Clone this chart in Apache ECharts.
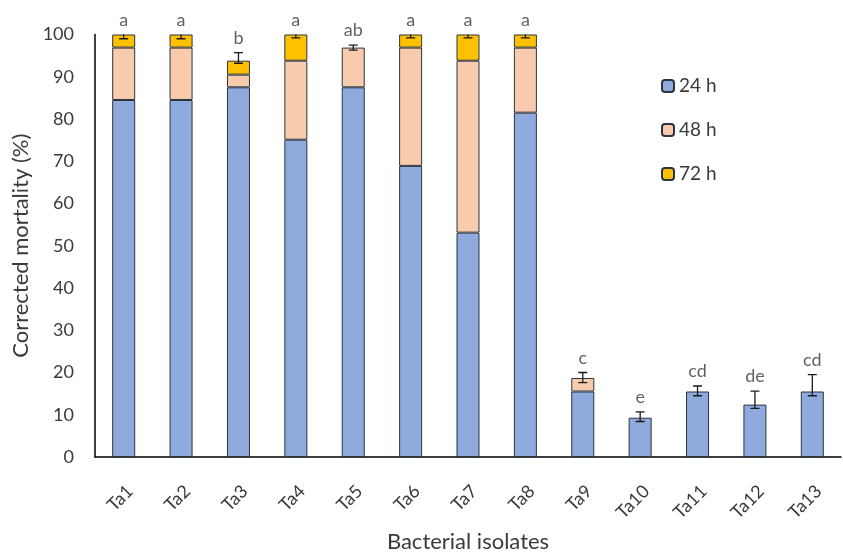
<!DOCTYPE html>
<html><head><meta charset="utf-8">
<script src="https://cdn.jsdelivr.net/npm/echarts@6/dist/echarts.min.js"></script>
<style>html,body{margin:0;padding:0;background:#fff}#c{width:843px;height:558px}</style>
</head><body><div id="c"></div>
<script>
const categories = ['Ta1','Ta2','Ta3','Ta4','Ta5','Ta6','Ta7','Ta8','Ta9','Ta10','Ta11','Ta12','Ta13'];
const h24 = [84.5, 84.5, 87.5, 75.1, 87.5, 68.9, 53.1, 81.5, 15.5, 9.3, 15.5, 12.4, 15.5];
const h48 = [12.4, 12.4, 3.0, 18.7, 9.4, 28.0, 40.7, 15.4, 3.2, 0, 0, 0, 0];
const h72 = [3.1, 3.1, 3.3, 6.2, 0, 3.1, 6.2, 3.1, 0, 0, 0, 0, 0];
const errUp = [1.0, 1.0, 1.9, 1.0, 0.6, 1.0, 1.0, 1.0, 1.3, 1.4, 1.3, 3.2, 4.0];
const errDown = [1.0, 1.0, 0.6, 0.8, 0.6, 0.8, 0.8, 0.8, 1.1, 0.9, 1.0, 0.9, 1.0];
const letters = ['a','a','b','a','ab','a','a','a','c','e','cd','de','cd'];
const yTicks = [0,10,20,30,40,50,60,70,80,90,100];

const FONT = 'Lato';
const TXT = '#3a3a3a';
const totals = categories.map((c,i)=>h24[i]+h48[i]+h72[i]);
const nz = a => a.map(v => v === 0 ? null : v);
const border = {borderColor:'#2b3441', borderWidth:1};

const chart = echarts.init(document.getElementById('c'), null, {renderer:'canvas'});
chart.setOption({
  animation:false,
  textStyle:{fontFamily:FONT},
  grid:{left:95, right:2, top:34.5, bottom:94, containLabel:false},
  legend:{
    orient:'vertical', left:656, top:71, itemWidth:12, itemHeight:12, itemGap:24,
    textStyle:{fontFamily:FONT, fontSize:19, color:TXT, lineHeight:20},
    data:['24 h','48 h','72 h']
  },
  xAxis:{
    type:'category', data:categories,
    axisLine:{lineStyle:{color:'#000', width:1.5}},
    axisTick:{show:false},
    axisLabel:{rotate:45, fontSize:18, color:TXT, fontFamily:FONT, margin:25, interval:0, verticalAlign:'top'},
    name:'Bacterial isolates', nameLocation:'middle', nameGap:74,
    nameTextStyle:{fontSize:22, color:TXT, fontFamily:FONT}
  },
  yAxis:{
    type:'value', min:0, max:100, interval:10,
    axisLine:{show:true, lineStyle:{color:'#000', width:1.5}},
    axisTick:{show:false}, splitLine:{show:false},
    axisLabel:{fontSize:18, color:TXT, fontFamily:FONT, margin:21,
      formatter:v => yTicks.includes(v) ? String(v) : ''},
    name:'Corrected mortality (%)', nameLocation:'middle', nameGap:57,
    nameTextStyle:{fontSize:22, color:TXT, fontFamily:FONT}
  },
  series:[
    {name:'24 h', type:'bar', stack:'t', barWidth:23, data:nz(h24), itemStyle:Object.assign({color:'#8FAADC'},border)},
    {name:'48 h', type:'bar', stack:'t', barWidth:23, data:nz(h48), itemStyle:Object.assign({color:'#F8CBAD'},border)},
    {name:'72 h', type:'bar', stack:'t', barWidth:23, data:nz(h72), itemStyle:Object.assign({color:'#FFC000'},border)},
    {
      type:'custom', clip:true, z:10, silent:true,
      data: categories.map((c,i)=>[i, totals[i]+errUp[i], totals[i]-errDown[i]]),
      renderItem:(params, api)=>{
        const x = api.coord([api.value(0), 0])[0];
        const hi = api.coord([api.value(0), api.value(1)])[1];
        const lo = api.coord([api.value(0), api.value(2)])[1];
        const w = 4.5;
        const st = {stroke:'#1a1a1a', lineWidth:1.3};
        return {type:'group', children:[
          {type:'line', shape:{x1:x,y1:hi,x2:x,y2:lo}, style:st},
          {type:'line', shape:{x1:x-w,y1:hi,x2:x+w,y2:hi}, style:st},
          {type:'line', shape:{x1:x-w,y1:lo,x2:x+w,y2:lo}, style:st}
        ]};
      }
    },
    {
      type:'scatter', symbolSize:1, itemStyle:{color:'rgba(0,0,0,0)'}, silent:true, z:11,
      data: categories.map((c,i)=>({value:[i, Math.min(totals[i]+errUp[i], 100)], name:letters[i]})),
      label:{show:true, position:'top', distance:5, formatter:p=>p.name,
        fontSize:18, color:TXT, fontFamily:FONT}
    }
  ]
});
</script></body></html>
